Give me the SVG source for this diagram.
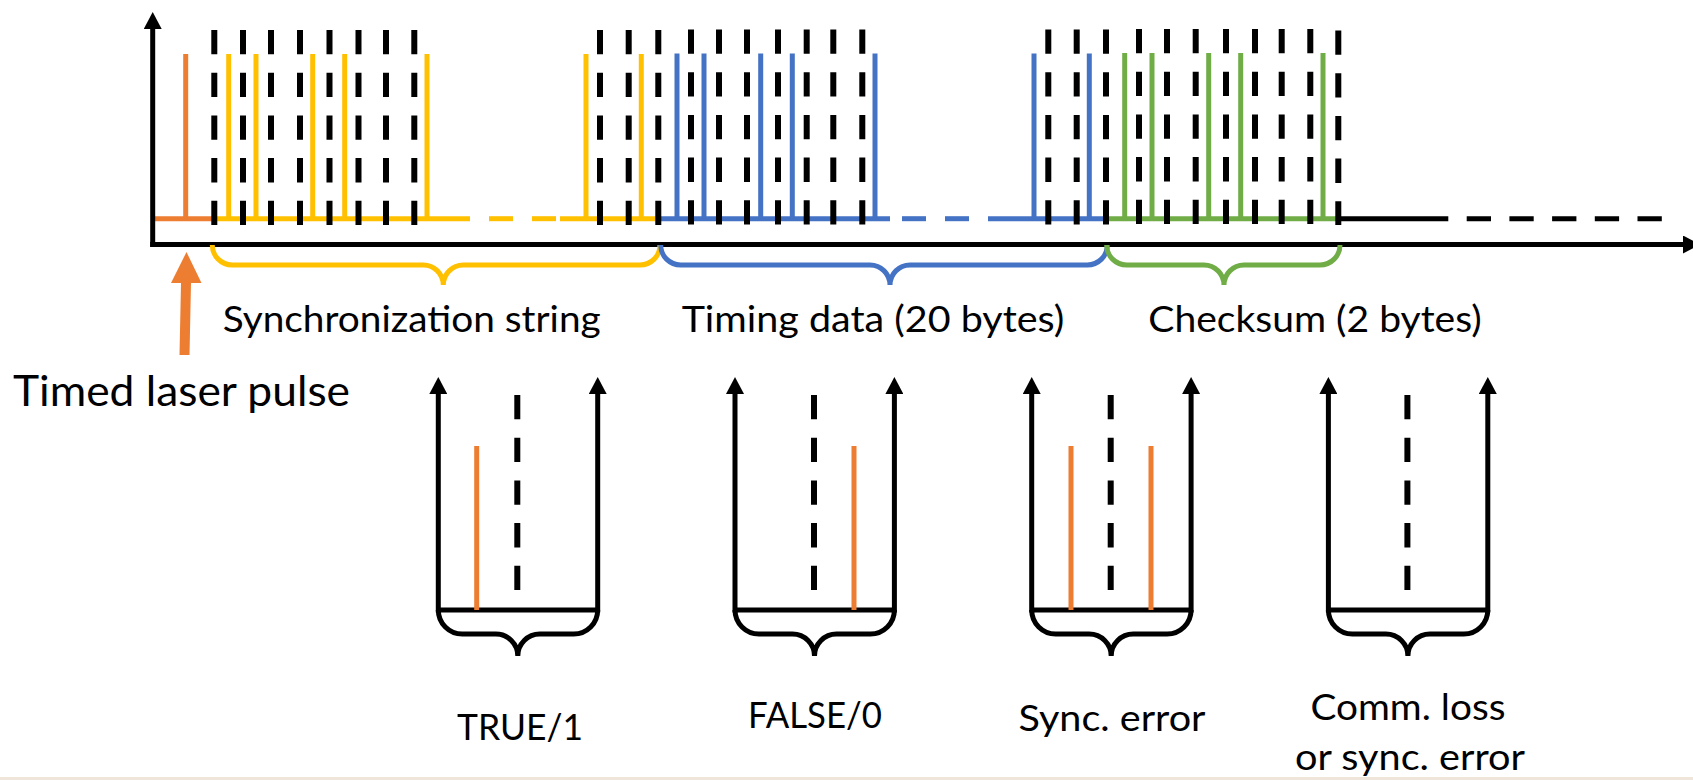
<svg xmlns="http://www.w3.org/2000/svg" width="1693" height="780" viewBox="0 0 1693 780">
<style>
.bk{stroke:#000;stroke-width:5;fill:none}
.dash{stroke:#000;stroke-width:6;stroke-dasharray:24.3 18.4;fill:none}
.or{stroke:#ED7D31;stroke-width:5;fill:none}
.ye{stroke:#FFC000;stroke-width:5;fill:none}
.bl{stroke:#4472C4;stroke-width:5;fill:none}
.gr{stroke:#70AD47;stroke-width:5;fill:none}
.arr{marker-end:url(#ah)}
text{font-family:Lato,"Liberation Sans",Arial,sans-serif;fill:#000;font-size:36px}
.big{font-size:43px}
.mid{text-anchor:middle}
</style>
<defs>
<marker id="ah" viewBox="0 0 17 18" refX="0" refY="9" markerWidth="17" markerHeight="18" markerUnits="userSpaceOnUse" orient="auto"><path d="M0,0 L17,9 L0,18 z" fill="#000"/></marker>
<g id="frame">
<line class="bk" x1="0" y1="610" x2="159.4" y2="610"/>
<line class="bk arr" x1="0" y1="612.5" x2="0" y2="394"/>
<line class="bk arr" x1="159.4" y1="612.5" x2="159.4" y2="394"/>
<line class="dash" x1="79" y1="395" x2="79" y2="590"/>
<path class="bk" d="M0,610 A24,24 0 0 0 24,634 L57.5,634 A22,22 0 0 1 79.5,656 A22,22 0 0 1 101.5,634 L135.4,634 A24,24 0 0 0 159.4,610"/>
</g>
</defs>
<rect x="0" y="0" width="1693" height="780" fill="#fff"/>
<rect x="0" y="777" width="1693" height="3" fill="#EFE5D9"/>

<g id="signal">
<line class="or" x1="152.7" y1="218.7" x2="212" y2="218.7"/>
<line class="ye" x1="211.7" y1="218.7" x2="470" y2="218.7"/>
<line class="ye" x1="489" y1="218.7" x2="513" y2="218.7"/>
<line class="ye" x1="532" y1="218.7" x2="556" y2="218.7"/>
<line class="ye" x1="560" y1="218.7" x2="658.5" y2="218.7"/>
<line class="bl" x1="658.5" y1="218.7" x2="890" y2="218.7"/>
<line class="bl" x1="902" y1="218.7" x2="926" y2="218.7"/>
<line class="bl" x1="945" y1="218.7" x2="969" y2="218.7"/>
<line class="bl" x1="988" y1="218.7" x2="1107" y2="218.7"/>
<line class="gr" x1="1106.7" y1="218.7" x2="1338" y2="218.7"/>
<line class="bk" x1="1338" y1="218.7" x2="1424" y2="218.7"/>
<line class="bk" x1="1424" y1="218.7" x2="1662" y2="218.7" stroke-dasharray="24.3 18.4"/>
<line class="or" x1="185.7" y1="54" x2="185.7" y2="218.7"/>
<line class="ye" x1="228.7" y1="54" x2="228.7" y2="218.7"/>
<line class="ye" x1="256" y1="54" x2="256" y2="218.7"/>
<line class="ye" x1="312.7" y1="54" x2="312.7" y2="218.7"/>
<line class="ye" x1="344.7" y1="54" x2="344.7" y2="218.7"/>
<line class="ye" x1="427" y1="54" x2="427" y2="218.7"/>
<line class="ye" x1="586" y1="54" x2="586" y2="218.7"/>
<line class="ye" x1="641.3" y1="54" x2="641.3" y2="218.7"/>
<line class="bl" x1="677" y1="53.5" x2="677" y2="218.7"/>
<line class="bl" x1="704" y1="53.5" x2="704" y2="218.7"/>
<line class="bl" x1="760.7" y1="53.5" x2="760.7" y2="218.7"/>
<line class="bl" x1="792.3" y1="53.5" x2="792.3" y2="218.7"/>
<line class="bl" x1="875" y1="53.5" x2="875" y2="218.7"/>
<line class="bl" x1="1034" y1="53.5" x2="1034" y2="218.7"/>
<line class="bl" x1="1089.3" y1="53.5" x2="1089.3" y2="218.7"/>
<line class="gr" x1="1124.7" y1="53" x2="1124.7" y2="218.7"/>
<line class="gr" x1="1152" y1="53" x2="1152" y2="218.7"/>
<line class="gr" x1="1208.7" y1="53" x2="1208.7" y2="218.7"/>
<line class="gr" x1="1240.7" y1="53" x2="1240.7" y2="218.7"/>
<line class="gr" x1="1323" y1="53" x2="1323" y2="218.7"/>
<line class="dash" x1="214.3" y1="30" x2="214.3" y2="225"/>
<line class="dash" x1="243" y1="30" x2="243" y2="225"/>
<line class="dash" x1="271" y1="30" x2="271" y2="225"/>
<line class="dash" x1="300" y1="30" x2="300" y2="225"/>
<line class="dash" x1="329.5" y1="30" x2="329.5" y2="225"/>
<line class="dash" x1="358.5" y1="30" x2="358.5" y2="225"/>
<line class="dash" x1="386" y1="30" x2="386" y2="225"/>
<line class="dash" x1="414.3" y1="30" x2="414.3" y2="225"/>
<line class="dash" x1="600" y1="30" x2="600" y2="225"/>
<line class="dash" x1="628.7" y1="30" x2="628.7" y2="225"/>
<line class="dash" x1="658.3" y1="30" x2="658.3" y2="225"/>
<line class="dash" x1="691" y1="29.5" x2="691" y2="225"/>
<line class="dash" x1="719" y1="29.5" x2="719" y2="225"/>
<line class="dash" x1="747" y1="29.5" x2="747" y2="225"/>
<line class="dash" x1="778" y1="29.5" x2="778" y2="225"/>
<line class="dash" x1="806.7" y1="29.5" x2="806.7" y2="225"/>
<line class="dash" x1="833.3" y1="29.5" x2="833.3" y2="225"/>
<line class="dash" x1="862.3" y1="29.5" x2="862.3" y2="225"/>
<line class="dash" x1="1048.3" y1="29.5" x2="1048.3" y2="225"/>
<line class="dash" x1="1076.7" y1="29.5" x2="1076.7" y2="225"/>
<line class="dash" x1="1106" y1="29.5" x2="1106" y2="225"/>
<line class="dash" x1="1139" y1="29" x2="1139" y2="225"/>
<line class="dash" x1="1167" y1="29" x2="1167" y2="225"/>
<line class="dash" x1="1195.7" y1="29" x2="1195.7" y2="225"/>
<line class="dash" x1="1226" y1="29" x2="1226" y2="225"/>
<line class="dash" x1="1255" y1="29" x2="1255" y2="225"/>
<line class="dash" x1="1281.7" y1="29" x2="1281.7" y2="225"/>
<line class="dash" x1="1310.3" y1="29" x2="1310.3" y2="225"/>
<line class="dash" x1="1338.3" y1="30.5" x2="1338.3" y2="225"/>
</g>

<g id="axes">
<line class="bk arr" x1="152.7" y1="247" x2="152.7" y2="29"/>
<line class="bk arr" x1="150.2" y1="244.5" x2="1683" y2="244.5"/>
</g>

<g id="braces">
<path class="ye" d="M212.3,245 A20,20 0 0 0 232.3,265 L423.3,265 A20,20 0 0 1 443.3,285 A20,20 0 0 1 463.3,265 L640,265 A20,20 0 0 0 660,245"/>
<path class="bl" d="M660.7,245 A20,20 0 0 0 680.7,265 L870,265 A20,20 0 0 1 890,285 A20,20 0 0 1 910,265 L1087.3,265 A20,20 0 0 0 1107.3,245"/>
<path class="gr" d="M1106.7,245 A20,20 0 0 0 1126.7,265 L1204,265 A20,20 0 0 1 1224,285 A20,20 0 0 1 1244,265 L1320,265 A20,20 0 0 0 1340,245"/>
</g>

<g id="laser-arrow">
<polygon points="179.5,355 189.5,355 191,283 201.5,283 186.5,252 171,283 181,283" fill="#ED7D31"/>
</g>

<g id="labels">
<text x="222.7" y="331.7" textLength="378" lengthAdjust="spacingAndGlyphs">Synchronization string</text>
<text x="681.7" y="331.7" textLength="382.6" lengthAdjust="spacingAndGlyphs">Timing data (20 bytes)</text>
<text x="1148.3" y="331.7" textLength="333.4" lengthAdjust="spacingAndGlyphs">Checksum (2 bytes)</text>
<text class="big" x="13" y="406" textLength="337" lengthAdjust="spacingAndGlyphs">Timed laser pulse</text>
</g>

<g id="chart-true" transform="translate(438.3,0)">
<use href="#frame"/>
<line class="or" x1="38.4" y1="446" x2="38.4" y2="610"/>
<text class="mid" x="81.7" y="740" textLength="126" lengthAdjust="spacingAndGlyphs">TRUE/1</text>
</g>
<g id="chart-false" transform="translate(735,0)">
<use href="#frame"/>
<line class="or" x1="119" y1="446" x2="119" y2="610"/>
<text class="mid" x="80" y="728" textLength="134" lengthAdjust="spacingAndGlyphs">FALSE/0</text>
</g>
<g id="chart-sync" transform="translate(1031.7,0)">
<use href="#frame"/>
<line class="or" x1="39.3" y1="446" x2="39.3" y2="610"/>
<line class="or" x1="119.3" y1="446" x2="119.3" y2="610"/>
<text class="mid" x="80.3" y="730.5" textLength="187" lengthAdjust="spacingAndGlyphs">Sync. error</text>
</g>
<g id="chart-loss" transform="translate(1328.4,0)">
<use href="#frame"/>
<text class="mid" x="79.6" y="720" textLength="195" lengthAdjust="spacingAndGlyphs">Comm. loss</text>
<text class="mid" x="81.6" y="770" textLength="230" lengthAdjust="spacingAndGlyphs">or sync. error</text>
</g>
</svg>
